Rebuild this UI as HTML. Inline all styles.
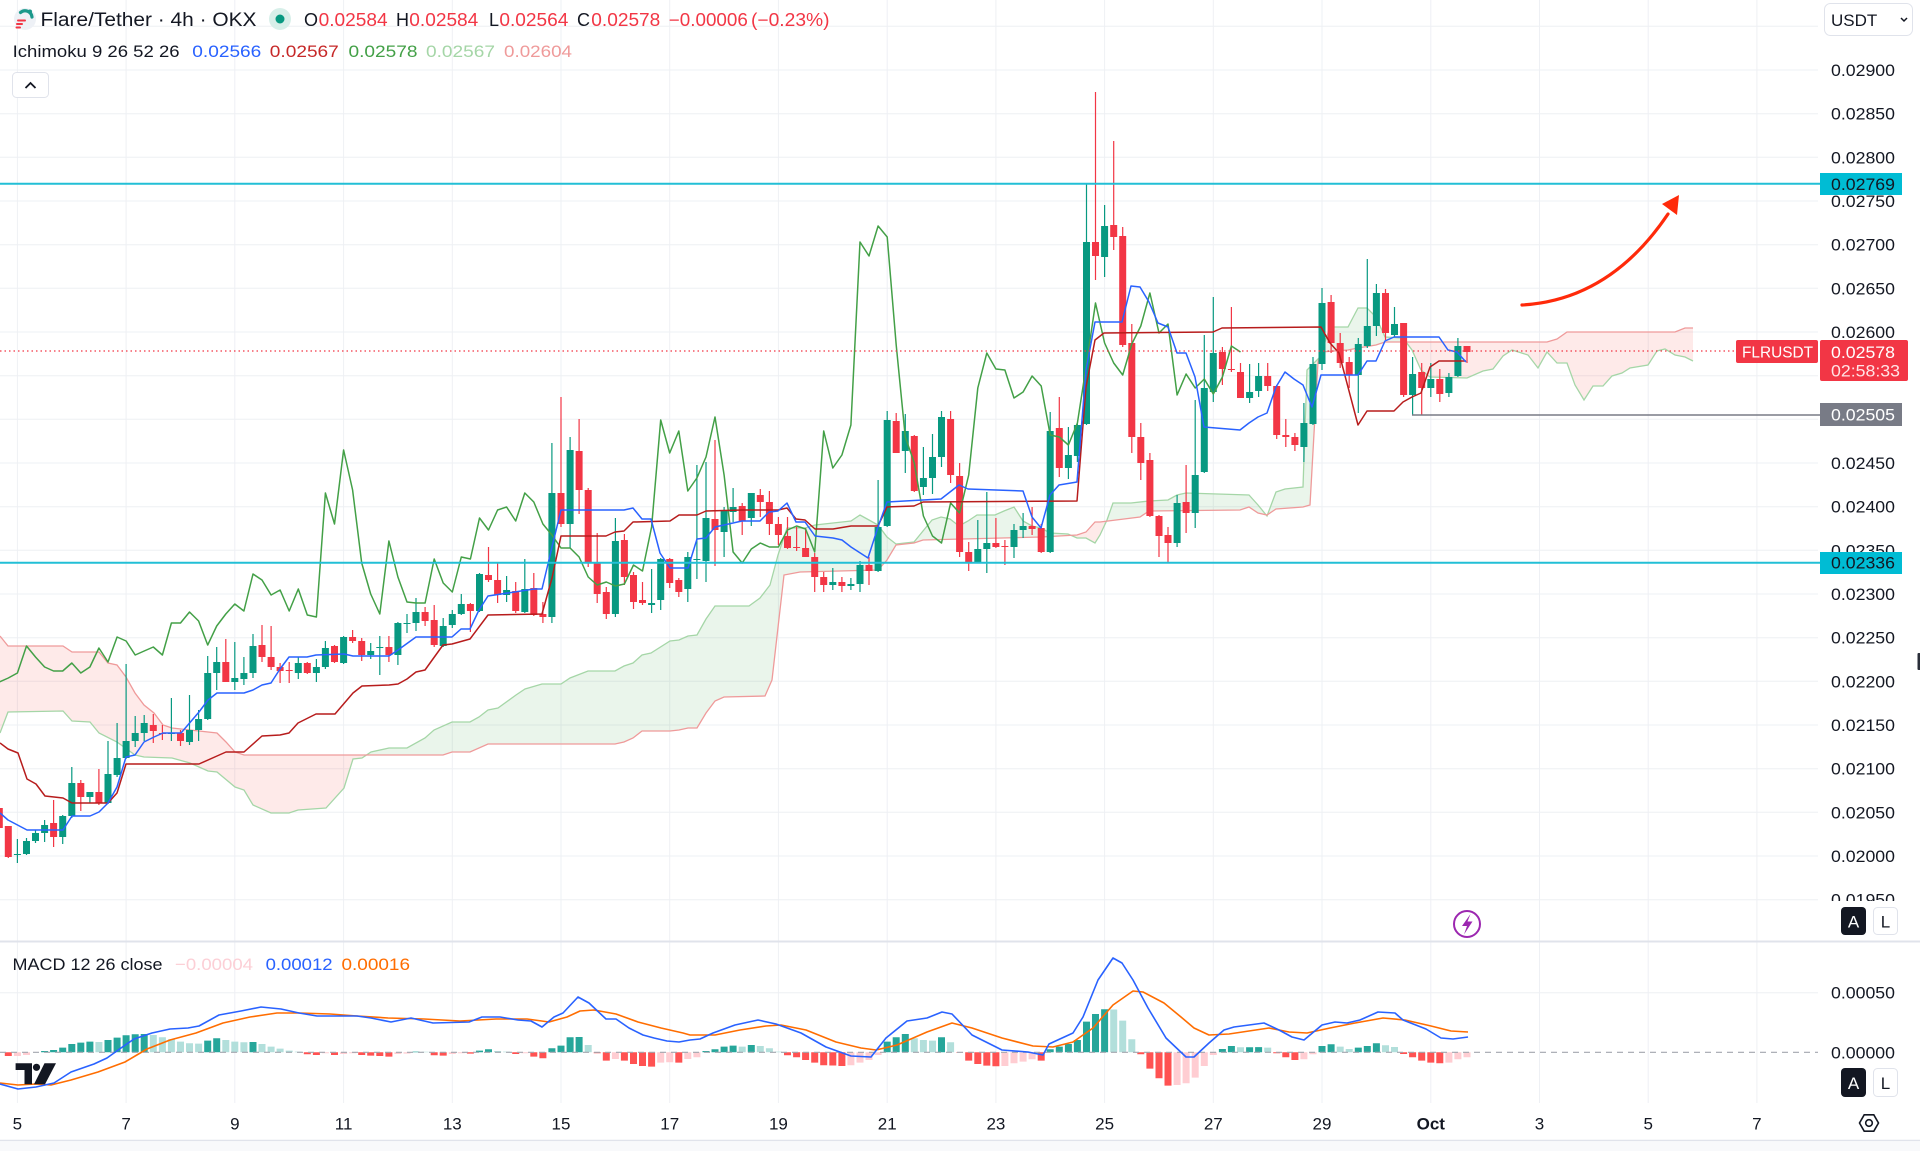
<!DOCTYPE html>
<html><head><meta charset="utf-8">
<style>
html,body{margin:0;padding:0;background:#fff;}
body{width:1920px;height:1151px;overflow:hidden;position:relative;}
svg{position:absolute;left:0;top:0;}
text{font-family:"Liberation Sans",sans-serif;}
</style></head><body>
<svg id="s" width="1920" height="1151" viewBox="0 0 1920 1151" xmlns="http://www.w3.org/2000/svg">
<defs>
<clipPath id="main"><rect x="0" y="0" width="1820" height="940"/></clipPath>
<clipPath id="macd"><rect x="0" y="943" width="1820" height="160"/></clipPath>
<clipPath id="axc"><rect x="1820" y="0" width="100" height="901"/></clipPath>
</defs>
<rect x="0" y="0" width="1920" height="1151" fill="#fff"/>
<g id="grid"></g>
<g id="cloud" clip-path="url(#main)"></g>
<g id="candles" clip-path="url(#main)"></g>
<g id="ind" clip-path="url(#main)"></g>
<g id="levels">
<line x1="0" y1="183.7" x2="1820" y2="183.7" stroke="#22bfd6" stroke-width="2"/>
<line x1="0" y1="562.7" x2="1820" y2="562.7" stroke="#22bfd6" stroke-width="2"/>
<line x1="1412" y1="415" x2="1820" y2="415" stroke="#787b86" stroke-width="1.5"/>
<line x1="0" y1="351" x2="1736" y2="351" stroke="#f23645" stroke-width="1.3" stroke-dasharray="1.5 3"/>
</g>
<path d="M1522 305 Q1610 300 1668 214" stroke="#ff2a0a" stroke-width="3.2" fill="none" stroke-linecap="round"/>
<polygon points="1679,195 1662,204 1677,215" fill="#ff2a0a"/>
<g id="macdg" clip-path="url(#macd)"></g>
<line x1="0" y1="941.5" x2="1920" y2="941.5" stroke="#e0e3eb" stroke-width="2"/>
<line x1="0" y1="1140.5" x2="1920" y2="1140.5" stroke="#e0e3eb" stroke-width="1.5"/>
<rect x="0" y="1142" width="1920" height="9" fill="#f8f9fb"/>

<!-- price axis labels -->
<g font-size="17" fill="#131722" clip-path="url(#axc)">
<text x="1831" y="76" textLength="64" lengthAdjust="spacingAndGlyphs">0.02900</text>
<text x="1831" y="119.7" textLength="64" lengthAdjust="spacingAndGlyphs">0.02850</text>
<text x="1831" y="163.3" textLength="64" lengthAdjust="spacingAndGlyphs">0.02800</text>
<text x="1831" y="207" textLength="64" lengthAdjust="spacingAndGlyphs">0.02750</text>
<text x="1831" y="250.7" textLength="64" lengthAdjust="spacingAndGlyphs">0.02700</text>
<text x="1831" y="294.3" textLength="64" lengthAdjust="spacingAndGlyphs">0.02650</text>
<text x="1831" y="338" textLength="64" lengthAdjust="spacingAndGlyphs">0.02600</text>
<text x="1831" y="469" textLength="64" lengthAdjust="spacingAndGlyphs">0.02450</text>
<text x="1831" y="512.7" textLength="64" lengthAdjust="spacingAndGlyphs">0.02400</text>
<text x="1831" y="556.3" textLength="64" lengthAdjust="spacingAndGlyphs">0.02350</text>
<text x="1831" y="600" textLength="64" lengthAdjust="spacingAndGlyphs">0.02300</text>
<text x="1831" y="643.7" textLength="64" lengthAdjust="spacingAndGlyphs">0.02250</text>
<text x="1831" y="687.3" textLength="64" lengthAdjust="spacingAndGlyphs">0.02200</text>
<text x="1831" y="731" textLength="64" lengthAdjust="spacingAndGlyphs">0.02150</text>
<text x="1831" y="774.7" textLength="64" lengthAdjust="spacingAndGlyphs">0.02100</text>
<text x="1831" y="818.3" textLength="64" lengthAdjust="spacingAndGlyphs">0.02050</text>
<text x="1831" y="862" textLength="64" lengthAdjust="spacingAndGlyphs">0.02000</text>
<text x="1831" y="905.7" textLength="64" lengthAdjust="spacingAndGlyphs">0.01950</text>
</g>
<g font-size="17" fill="#131722">
<text x="1831" y="998.7" textLength="64" lengthAdjust="spacingAndGlyphs">0.00050</text>
<text x="1831" y="1058.3" textLength="64" lengthAdjust="spacingAndGlyphs">0.00000</text>
</g>

<!-- axis badges -->
<rect x="1820" y="173" width="82" height="22" fill="#00bcd4"/>
<text x="1831" y="190" font-size="17" fill="#131722" textLength="64" lengthAdjust="spacingAndGlyphs">0.02769</text>
<rect x="1736" y="340" width="82" height="23" rx="2" fill="#f23645"/>
<text x="1742" y="357.5" font-size="16" fill="#fff" textLength="71" lengthAdjust="spacingAndGlyphs">FLRUSDT</text>
<rect x="1820" y="340" width="88" height="41" rx="2" fill="#f23645"/>
<text x="1831" y="358" font-size="17" fill="#fff" textLength="64" lengthAdjust="spacingAndGlyphs">0.02578</text>
<text x="1831" y="376.5" font-size="17" fill="#ffe3e5" textLength="69" lengthAdjust="spacingAndGlyphs">02:58:33</text>
<rect x="1820" y="403" width="82" height="23" fill="#787b86"/>
<text x="1831" y="420.5" font-size="17" fill="#fff" textLength="64" lengthAdjust="spacingAndGlyphs">0.02505</text>
<rect x="1820" y="552" width="82" height="22" fill="#00bcd4"/>
<text x="1831" y="568.5" font-size="17" fill="#131722" textLength="64" lengthAdjust="spacingAndGlyphs">0.02336</text>

<!-- time axis -->
<g font-size="17" fill="#131722" text-anchor="middle">
<text x="17.4" y="1129.3">5</text>
<text x="126.1" y="1129.3">7</text>
<text x="234.8" y="1129.3">9</text>
<text x="343.6" y="1129.3">11</text>
<text x="452.3" y="1129.3">13</text>
<text x="561" y="1129.3">15</text>
<text x="669.7" y="1129.3">17</text>
<text x="778.4" y="1129.3">19</text>
<text x="887.2" y="1129.3">21</text>
<text x="995.9" y="1129.3">23</text>
<text x="1104.6" y="1129.3">25</text>
<text x="1213.3" y="1129.3">27</text>
<text x="1322" y="1129.3">29</text>
<text x="1430.8" y="1129.3" font-weight="bold">Oct</text>
<text x="1539.5" y="1129.3">3</text>
<text x="1648.2" y="1129.3">5</text>
<text x="1756.9" y="1129.3">7</text>
</g>

<!-- settings icon -->
<polygon points="1878.5,1123 1873.8,1131.2 1864.2,1131.2 1859.5,1123 1864.2,1114.8 1873.8,1114.8" fill="none" stroke="#131722" stroke-width="1.6"/>
<circle cx="1869" cy="1123" r="3.3" fill="none" stroke="#131722" stroke-width="1.6"/>

<!-- A / L buttons -->
<rect x="1841" y="907" width="25" height="28" rx="4" fill="#131722"/>
<text x="1853.5" y="927.5" font-size="17" fill="#fff" text-anchor="middle">A</text>
<rect x="1873.5" y="907.5" width="24" height="27" rx="4" fill="#fff" stroke="#e0e3eb"/>
<text x="1885.5" y="927.5" font-size="17" fill="#131722" text-anchor="middle">L</text>
<rect x="1841" y="1068" width="25" height="29" rx="4" fill="#131722"/>
<text x="1853.5" y="1089" font-size="17" fill="#fff" text-anchor="middle">A</text>
<rect x="1873.5" y="1068.5" width="24" height="28" rx="4" fill="#fff" stroke="#e0e3eb"/>
<text x="1885.5" y="1089" font-size="17" fill="#131722" text-anchor="middle">L</text>

<!-- lightning icon -->
<circle cx="1467" cy="924" r="13" fill="#fff" stroke="#9c27b0" stroke-width="2"/>
<path d="M1470.5 914 L1462 926 L1467 926 L1464 934.5 L1472.5 921.5 L1467.5 921.5 Z" fill="#9c27b0"/>

<!-- small edge mark -->
<rect x="1917.5" y="653" width="3" height="17" rx="1" fill="#2a2e39"/>

<!-- USDT dropdown -->
<rect x="1824.5" y="3.5" width="88" height="32" rx="6" fill="#fff" stroke="#e0e3eb"/>
<text x="1831" y="26" font-size="17" fill="#131722">USDT</text>
<path d="M1901 18 L1904 21 L1907 18" stroke="#131722" stroke-width="1.5" fill="none"/>

<!-- header -->
<circle cx="25" cy="19" r="11" fill="#eef1f6"/>
<path d="M20.5 12.5 A7 7 0 0 1 32 17" stroke="#1b998b" stroke-width="3.2" fill="none" stroke-linecap="round"/>
<circle cx="30" cy="11.5" r="2" fill="#1b998b"/>
<path d="M18 20.5 H25 M17 24 H22 M16.5 27.5 H20" stroke="#f23645" stroke-width="2" stroke-linecap="round"/>
<text x="40.5" y="26" font-size="19" fill="#131722" textLength="216" lengthAdjust="spacingAndGlyphs">Flare/Tether · 4h · OKX</text>
<circle cx="280" cy="19" r="11" fill="#d7efe9"/>
<circle cx="280" cy="19" r="4.5" fill="#089981"/>
<g font-size="18">
<text x="304" y="26" fill="#131722">O</text>
<text x="318.6" y="26" fill="#f23645" textLength="69" lengthAdjust="spacingAndGlyphs">0.02584</text>
<text x="396" y="26" fill="#131722">H</text>
<text x="409.3" y="26" fill="#f23645" textLength="69" lengthAdjust="spacingAndGlyphs">0.02584</text>
<text x="489" y="26" fill="#131722">L</text>
<text x="499.4" y="26" fill="#f23645" textLength="69" lengthAdjust="spacingAndGlyphs">0.02564</text>
<text x="577" y="26" fill="#131722">C</text>
<text x="591.3" y="26" fill="#f23645" textLength="69" lengthAdjust="spacingAndGlyphs">0.02578</text>
<text x="668.8" y="26" fill="#f23645" textLength="79" lengthAdjust="spacingAndGlyphs">−0.00006</text>
<text x="751" y="26" fill="#f23645" textLength="78.5" lengthAdjust="spacingAndGlyphs">(−0.23%)</text>
</g>
<g font-size="17">
<text x="12.6" y="57" fill="#131722" textLength="167" lengthAdjust="spacingAndGlyphs">Ichimoku 9 26 52 26</text>
<text x="192.3" y="57" fill="#2962ff" textLength="69" lengthAdjust="spacingAndGlyphs">0.02566</text>
<text x="269.8" y="57" fill="#c62828" textLength="69" lengthAdjust="spacingAndGlyphs">0.02567</text>
<text x="348.5" y="57" fill="#43a047" textLength="69" lengthAdjust="spacingAndGlyphs">0.02578</text>
<text x="426" y="57" fill="#a5d6a7" textLength="69" lengthAdjust="spacingAndGlyphs">0.02567</text>
<text x="504" y="57" fill="#ef9a9a" textLength="68" lengthAdjust="spacingAndGlyphs">0.02604</text>
</g>
<rect x="12.5" y="72.5" width="36" height="25" rx="4" fill="#fff" stroke="#e0e3eb"/>
<path d="M25.5 88 L30.5 83 L35.5 88" stroke="#131722" stroke-width="1.8" fill="none"/>

<!-- MACD legend -->
<g font-size="17">
<text x="12.5" y="970" fill="#131722" textLength="150" lengthAdjust="spacingAndGlyphs">MACD 12 26 close</text>
<text x="175" y="970" fill="#fccfd6" textLength="78" lengthAdjust="spacingAndGlyphs">−0.00004</text>
<text x="265.6" y="970" fill="#2962ff" textLength="67" lengthAdjust="spacingAndGlyphs">0.00012</text>
<text x="341.5" y="970" fill="#ff6d00" textLength="68.5" lengthAdjust="spacingAndGlyphs">0.00016</text>
</g>

<!-- TV logo -->
<g fill="#131722">
<path d="M15.6 1063.3 H32 V1084.3 H24.5 V1070 H15.6 Z"/>
<circle cx="36.5" cy="1067.3" r="3.6"/>
<path d="M44.5 1063.3 H56 L45 1084.3 H34 Z"/>
</g>
</svg>
<script>
(function(){
const NS='http://www.w3.org/2000/svg';
function el(t,a,p){const e=document.createElementNS(NS,t);for(const k in a)e.setAttribute(k,a[k]);p.appendChild(e);return e;}
function $(id){return document.getElementById(id);}
const X=i=>17.4+i*9.06;

// grid
let d='';
for(let k=-1;k<=19;k++){const y=(70+k*43.667).toFixed(1);d+='M0 '+y+'H1818';}
d+='M0 992.7H1818';
for(let k=0;k<=16;k++){const x=(17.4+k*108.72).toFixed(1);d+='M'+x+' 0V1103';}
el('path',{d:d,stroke:'#eef0f4','stroke-width':1,fill:'none'},$('grid'));

const CD=[
[808,797,843,828],[826,826,858,857],[855,839,863,854],[854,838,855,841],[841,830,843,833],[833,820,842,825],[823,800,847,837],[837,815,844,816],[816,767,818,783],[783,780,811,797],
[797,792,803,792],[792,769,805,803],[803,741,804,774],[775,723,777,758],[758,664,759,741],[741,716,747,733],[733,715,741,723],[725,714,743,731],[733,725,740,734],[734,698,741,733],
[733,730,746,741],[742,695,745,730],[730,710,741,719],[719,656,720,673],[673,647,690,662],[662,639,682,682],[682,642,690,678],[679,657,685,673],[673,634,678,646],[645,625,662,657],
[657,626,670,667],[667,663,683,671],[670,662,683,671],[673,657,679,663],[663,662,674,673],[673,659,682,667],[667,641,669,648],[646,645,663,662],[663,636,664,637],[637,630,643,641],
[641,638,661,655],
[655,643,659,651],[648,636,675,647],[647,636,662,655],[655,622,665,623],[624,614,633,623],[623,598,631,612],[612,607,626,621],[620,605,647,645],[646,618,647,626],[625,610,628,614],
[614,594,615,604],[604,603,632,611],[611,573,612,574],[575,547,582,580],[580,562,603,595],[595,576,602,590],[591,582,613,611],[612,559,613,589],[588,573,616,615],[614,602,623,617],
[617,443,623,493],[493,397,527,524],[524,437,548,450],[451,419,514,490],[490,488,567,563],[563,533,603,594],[592,587,619,614],[614,518,617,541],[540,534,585,577],[575,572,609,602],
[600,582,605,603],[605,569,613,603],[600,558,610,559],[559,558,588,583],[580,578,597,592],[589,552,602,557],[560,465,579,559],[561,462,582,518],[519,440,566,530],[532,507,557,510],
[512,488,522,507],
[506,503,535,521],[518,493,526,493],[495,489,517,502],[502,491,535,524],[524,517,545,535],[536,517,549,548],[547,527,551,548],[548,528,557,557],[557,553,592,577],[577,572,592,585],
[585,568,590,582],[582,577,592,586],[586,578,590,584],[584,561,592,565],[565,557,585,571],[571,480,572,527],[526,411,527,420],[421,413,453,453],[451,414,473,431],[436,435,492,491],
[487,447,495,478],[478,434,494,457],[457,411,467,417],[419,411,483,475],[476,463,557,552],[552,542,571,563],[563,520,563,549],[549,492,573,543],[543,518,548,547],[546,540,565,547],
[547,524,558,530],[530,513,538,526],[526,507,535,529],[528,524,553,552],[552,412,553,431],[428,397,477,468],[468,427,479,455],[456,423,462,425],[424,183,425,242],[242,92,280,256],
[257,205,277,226],[225,141,250,237],[236,227,347,345],[343,324,453,437],[437,423,480,463],[460,453,517,516],[516,515,557,536],[535,527,563,543],[543,495,547,503],[502,465,533,513],
[513,400,528,475],[472,335,473,388],[392,297,402,353],[352,347,385,369],[369,307,372,370],[372,363,398,398],[398,364,403,392],[391,363,397,376],[376,363,391,386],[386,385,439,435],
[435,419,447,437],[437,433,451,445],[447,403,462,423],[424,357,425,364],[364,288,370,303],[302,295,353,343],[343,333,368,363],[362,357,388,375],[375,338,413,344],[346,259,348,326],
[326,284,336,293],[293,289,340,333],[335,307,337,324],[323,323,397,395],[395,357,415,374],[372,363,415,388],[388,363,397,379],[379,369,402,394],[393,373,397,377],[376,338,377,346],
[346,346,363,352]
];

function interp(P,x){
 if(x<=P[0][0])return P[0][1];
 for(let k=1;k<P.length;k++){if(x<=P[k][0]){const a=P[k-1],b=P[k];const t=(x-a[0])/(b[0]-a[0]||1);return a[1]+t*(b[1]-a[1]);}}
 return P[P.length-1][1];
}
function pathOf(P){return P.map((p,k)=>(k?'L':'M')+p[0].toFixed(1)+' '+p[1].toFixed(1)).join('');}

const SA=[[0,733],[8,712],[63,711],[72,721],[90,722],[99,733],[117,742],[135,755],[144,757],[172,758],[190,763],[208,771],[217,772],[235,787],[244,790],[253,805],[271,813],[289,813],[298,810],[326,808],[344,788],[353,759],[362,758],[371,752],[389,748],[407,748],[425,738],[434,730],[452,722],[470,722],[479,717],[488,710],[498,708],[516,695],[525,689],[542,684],[561,684],[570,678],[588,671],[615,671],[624,666],[633,663],[642,655],[651,653],[670,641],[679,640],[688,636],[697,635],[706,619],[715,606],[749,606],[760,598],[770,585],[778,555],[787,528],[805,528],[815,525],[833,523],[851,521],[860,515],[869,520],[878,525],[887,537],[896,544],[914,542],[923,531],[932,520],[941,517],[950,519],[959,526],[968,521],[977,515],[995,515],[1004,511],[1014,507],[1023,521],[1032,526],[1041,528],[1050,533],[1068,534],[1077,538],[1086,538],[1095,543],[1100,535],[1107,520],[1113,503],[1131,503],[1149,501],[1168,500],[1177,495],[1186,493],[1249,495],[1258,505],[1267,516],[1276,492],[1285,489],[1303,487],[1307,370],[1320,357],[1330,327],[1348,327],[1358,308],[1367,308],[1376,317],[1385,337],[1403,338],[1412,350],[1421,370],[1430,377],[1467,378],[1483,371],[1493,369],[1503,356],[1512,350],[1528,355],[1538,368],[1547,352],[1557,363],[1567,363],[1575,385],[1584,400],[1593,386],[1603,386],[1612,376],[1622,373],[1630,368],[1648,365],[1657,351],[1665,349],[1675,355],[1685,357],[1693,361]];
const SB=[[0,636],[8,646],[63,646],[72,652],[99,652],[108,663],[117,665],[126,677],[135,693],[144,705],[154,713],[163,725],[172,728],[190,730],[217,733],[226,742],[235,752],[244,755],[443,755],[452,752],[470,752],[488,744],[615,744],[624,742],[633,738],[642,731],[670,731],[679,730],[688,728],[697,728],[706,713],[715,701],[724,697],[765,696],[772,680],[784,575],[800,572],[878,570],[887,560],[896,545],[914,543],[923,540],[1041,537],[1077,535],[1086,532],[1095,522],[1100,522],[1140,517],[1149,511],[1240,510],[1249,507],[1258,513],[1267,515],[1276,509],[1303,507],[1310,505],[1318,362],[1321,352],[1348,350],[1358,348],[1376,345],[1385,342],[1547,342],[1557,339],[1567,332],[1675,332],[1685,328],[1693,328]];

// cloud fill
let gp='',rp='';
for(let x=0;x<1693;x++){
 const a=interp(SA,x+0.5),b=interp(SB,x+0.5);
 if(Math.abs(a-b)<0.3)continue;
 if(a<b){gp+='M'+x+' '+a.toFixed(1)+'h1V'+b.toFixed(1)+'h-1Z';}
 else{rp+='M'+x+' '+b.toFixed(1)+'h1V'+a.toFixed(1)+'h-1Z';}
}
const CL=$('cloud');
el('path',{d:gp,fill:'rgba(67,160,71,0.11)'},CL);
el('path',{d:rp,fill:'rgba(244,67,54,0.11)'},CL);
el('path',{d:pathOf(SA),stroke:'#a5d6a7','stroke-width':1.3,fill:'none'},CL);
el('path',{d:pathOf(SB),stroke:'#ef9a9a','stroke-width':1.3,fill:'none'},CL);

// candles
let gw='',rw='',gb='',rb='';
CD.forEach(function(v,j){
 const i=j-2,x=X(i);const o=v[0],h=v[1],l=v[2],c=v[3];const up=c<=o;
 const w='M'+x.toFixed(1)+' '+h+'V'+l;
 const top=Math.min(o,c),ht=Math.max(1,Math.abs(o-c));
 const b='M'+(x-3.5).toFixed(1)+' '+top+'h7v'+ht+'h-7Z';
 if(up){gw+=w;gb+=b;}else{rw+=w;rb+=b;}
});
const CG=$('candles');
el('path',{d:gw,stroke:'#089981','stroke-width':1.2,fill:'none'},CG);
el('path',{d:rw,stroke:'#f23645','stroke-width':1.2,fill:'none'},CG);
el('path',{d:gb,fill:'#089981'},CG);
el('path',{d:rb,fill:'#f23645'},CG);

// indicators
const TK=[[0,813],[8,820],[27,830],[63,830],[72,816],[90,816],[99,812],[108,803],[117,787],[126,757],[135,755],[144,742],[154,737],[163,733],[181,733],[199,712],[208,700],[217,693],[244,693],[253,690],[262,685],[271,683],[280,669],[289,657],[307,657],[316,655],[344,654],[353,656],[389,656],[398,650],[416,637],[452,637],[461,629],[470,629],[479,610],[488,596],[534,589],[542,589],[552,547],[561,510],[624,510],[633,508],[642,519],[651,519],[660,553],[670,568],[688,568],[697,539],[706,538],[715,527],[724,525],[742,521],[760,521],[769,512],[778,511],[787,503],[796,522],[805,522],[815,536],[833,538],[842,540],[851,547],[868,558],[878,527],[887,502],[941,499],[950,492],[959,485],[968,489],[1023,491],[1032,517],[1041,528],[1050,495],[1059,485],[1077,482],[1086,370],[1095,322],[1122,322],[1131,286],[1140,287],[1149,302],[1158,323],[1168,327],[1177,353],[1186,353],[1195,377],[1204,427],[1240,430],[1249,423],[1258,417],[1267,413],[1276,387],[1285,372],[1294,379],[1303,385],[1312,407],[1321,375],[1358,375],[1367,361],[1376,361],[1385,341],[1394,337],[1439,337],[1448,350],[1457,352],[1466,362]];
const KJ=[[0,743],[8,749],[18,753],[27,779],[36,784],[45,796],[63,798],[72,803],[108,803],[117,793],[126,764],[199,764],[217,756],[226,752],[244,752],[262,736],[280,735],[289,733],[298,723],[316,714],[335,714],[353,693],[362,686],[389,685],[398,684],[407,679],[416,672],[425,670],[443,645],[452,644],[470,639],[488,615],[542,614],[552,578],[561,536],[606,536],[615,532],[624,531],[633,522],[670,521],[679,515],[697,515],[706,511],[742,510],[778,510],[787,508],[796,519],[805,520],[815,529],[833,529],[851,526],[878,526],[887,507],[914,506],[923,502],[1077,501],[1086,387],[1095,340],[1104,333],[1213,332],[1222,328],[1321,327],[1330,343],[1339,353],[1358,425],[1367,411],[1394,411],[1403,402],[1412,397],[1421,393],[1430,367],[1439,361],[1466,361]];
const CH=[];
for(let i=-2;i<=135;i++){CH.push([X(i),CD[i+25+2][3]]);}
const IG=$('ind');
el('path',{d:pathOf(CH),stroke:'#43a047','stroke-width':1.5,fill:'none','stroke-linejoin':'round'},IG);
el('path',{d:pathOf(KJ),stroke:'#b71c1c','stroke-width':1.5,fill:'none','stroke-linejoin':'round'},IG);
el('path',{d:pathOf(TK),stroke:'#2962ff','stroke-width':1.5,fill:'none','stroke-linejoin':'round'},IG);

// MACD
const MG=$('macdg');
const Z=1052.3;
const H=[-3.7,-3.7,-2.7,0,1.3,2.3,4.7,8.3,9.7,10.7,10.3,12.3,14.7,17,18,18.3,17.3,15,13,10.7,9,8.7,11.7,14,12.3,10.7,10,10.3,8.3,5.7,3.7,1.7,0.7,-2,-2.7,-1,-2.7,-1.7,-1,-2.7,-3.3,-3.7,-4.3,-1.7,-1.3,0.7,0.5,-3,-3.3,-1.7,-1,-1.3,1.7,3,1.3,0.7,-1.7,-1,-4.3,-6,4,6.7,15,15.3,7.3,-1,-8.3,-6.7,-8.3,-11.7,-13.7,-14.3,-10.3,-10,-10.3,-6.7,-5,1.3,3,5.7,6.7,5.7,7.3,6.3,4,0.7,-3,-5,-7.7,-10.3,-13,-13.2,-13.7,-13,-10.3,-7.7,-2.7,10.7,15,18.3,14,12.3,11.7,15,10,-0.3,-8.3,-11.7,-13.3,-14,-13.7,-11,-9.3,-7,-8.3,3,5.7,8.3,12.3,30.7,38.3,43,42.8,31.7,13,-2,-16.3,-26,-33.3,-32.7,-31,-25.3,-13.7,-2.7,3.3,6.3,5,5,5.2,4.7,-1,-5,-7.7,-7,-2,6.3,8,5.7,3.3,4.7,6.3,9,7,5.3,-1.7,-5,-8.3,-10.3,-11,-10.3,-7,-5];
const hp={'#26a69a':'','#b2dfdb':'','#ff5252':'','#ffcdd2':''};
let prev=0;
H.forEach(function(v,j){
 const i=j-1,x=X(i);let col;
 if(v>=0)col=(v>=prev)?'#26a69a':'#b2dfdb';else col=(v<prev)?'#ff5252':'#ffcdd2';
 prev=v;
 if(Math.abs(v)<0.2)return;
 const top=v>0?Z-v:Z;
 hp[col]+='M'+(x-3.5).toFixed(1)+' '+top.toFixed(1)+'h7v'+Math.abs(v).toFixed(1)+'h-7Z';
});
for(const k in hp){if(hp[k])el('path',{d:hp[k],fill:k},MG);}
el('line',{x1:0,y1:Z,x2:1818,y2:Z,stroke:'#a3a6af','stroke-width':1.2,'stroke-dasharray':'6 5'},MG);
const MB=[[0,1084],[18,1089],[36,1087],[54,1083],[71,1072],[94,1064],[107,1058],[121,1048],[134,1039],[152,1033],[170,1029],[188,1028],[199,1026],[219,1015],[241,1011],[261,1007],[281,1009],[299,1013],[317,1016],[357,1016],[371,1018],[391,1022],[411,1018],[433,1023],[469,1022],[482,1017],[500,1017],[518,1020],[531,1021],[542,1027],[554,1017],[563,1013],[578,997],[589,1003],[606,1019],[616,1019],[629,1028],[643,1035],[654,1038],[667,1041],[679,1042],[690,1040],[700,1039],[713,1033],[735,1025],[758,1020],[776,1024],[801,1033],[826,1047],[851,1056],[871,1057],[886,1038],[907,1021],[927,1018],[942,1012],[952,1014],[972,1035],[1002,1050],[1028,1052],[1043,1055],[1049,1044],[1073,1033],[1083,1017],[1098,980],[1113,958],[1122,963],[1133,980],[1148,1008],[1166,1038],[1186,1057],[1194,1057],[1209,1043],[1224,1030],[1234,1027],[1249,1025],[1264,1023],[1279,1030],[1292,1037],[1304,1040],[1322,1025],[1335,1022],[1347,1023],[1360,1020],[1378,1012],[1395,1013],[1403,1020],[1426,1029],[1441,1038],[1453,1039],[1468,1037]];
const MO=[[0,1083],[18,1085],[36,1084],[51,1085],[71,1080],[98,1072],[125,1062],[147,1049],[170,1040],[196,1033],[223,1023],[250,1017],[277,1013],[299,1013],[330,1014],[357,1016],[388,1018],[424,1019],[460,1021],[496,1019],[527,1019],[549,1022],[567,1017],[580,1011],[594,1010],[616,1014],[638,1022],[661,1028],[683,1033],[690,1035],[715,1035],[740,1030],[766,1026],[781,1025],[806,1030],[836,1042],[861,1048],[876,1050],[897,1045],[927,1032],[952,1023],[972,1028],[1002,1038],[1033,1046],[1053,1047],[1073,1042],[1093,1028],[1113,1005],[1133,991],[1143,992],[1164,1003],[1181,1017],[1194,1028],[1209,1035],[1229,1034],[1249,1031],[1269,1028],[1289,1032],[1307,1033],[1330,1028],[1355,1023],[1383,1018],[1405,1020],[1431,1026],[1451,1031],[1468,1032]];
el('path',{d:pathOf(MO),stroke:'#ff6d00','stroke-width':1.6,fill:'none','stroke-linejoin':'round'},MG);
el('path',{d:pathOf(MB),stroke:'#2962ff','stroke-width':1.6,fill:'none','stroke-linejoin':'round'},MG);
})();
</script>
</body></html>
